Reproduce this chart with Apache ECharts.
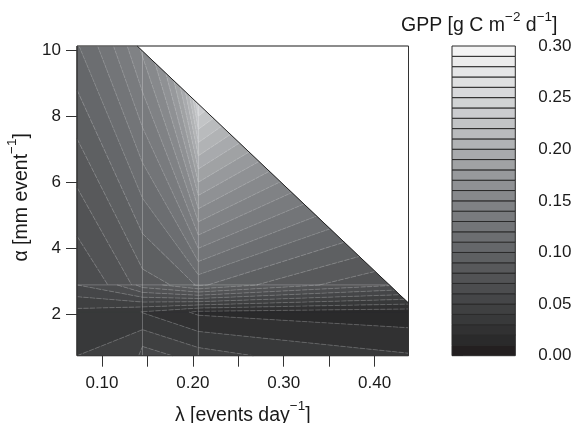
<!DOCTYPE html>
<html><head><meta charset="utf-8">
<style>html,body{margin:0;padding:0;background:#fff}#c{width:573px;height:423px}</style>
<script src="https://cdn.jsdelivr.net/npm/echarts@6/dist/echarts.min.js"></script>
</head><body><div id="c"></div>
<script>
// Grid nodes
const lambdaNodes = [0.0725, 0.1446, 0.206, 0.4373];
const alphaNodes = [0.745, 2.07, 2.89, 10.13];
const gppRow0 = [0.040, 0.0555, 0.045, 0.031];
const gppRow1 = [0.037, 0.0295, 0.018, 0.0138];
const gppRow2 = [0.060, 0.0855, 0.1023, 0.0695];
const gppRow3 = [0.109, 0.153, 0.283, 0.1855];
const feasibleTop = [0.1387, 10.13];
const feasibleRight = [0.4373, 2.34];
const levelGrays = ['#231f20','#2a2a2b','#313132','#38393a','#3f4041','#454648','#4c4d4f','#525355','#58595b','#5e6062',
 '#65676a','#6c6e71','#737578','#797b7e','#808285','#87898c','#8f9194','#97999c','#a0a2a4','#a8aaad',
 '#b1b3b5','#b9bbbd','#c2c4c6','#cbcccf','#d1d3d4','#d8d9db','#dfe0e1','#e5e6e7','#ececec','#f4f4f4'];
const levelStep = 0.01;
const lambdaTicks = [0.10,0.15,0.20,0.25,0.30,0.35,0.40];
const lambdaLabels = [0.10,0.20,0.30,0.40];
const alphaTicks = [2,4,6,8,10];

const rows = [gppRow0, gppRow1, gppRow2, gppRow3];
const font = 'Liberation Sans';

function clipPoly(pts, f){
  const out=[];
  for(let i=0;i<pts.length;i++){
    const a=pts[i], b=pts[(i+1)%pts.length], fa=f(a), fb=f(b);
    if(fa>=0) out.push(a);
    if((fa>=0)!==(fb>=0)){const t=fa/(fa-fb); out.push([a[0]+t*(b[0]-a[0]),a[1]+t*(b[1]-a[1])]);}
  }
  return out;
}
function clipSeg(seg, f){
  let [a,b]=seg; const fa=f(a), fb=f(b);
  if(fa<0&&fb<0) return null;
  if(fa>=0&&fb>=0) return [a,b];
  const t=fa/(fa-fb), m=[a[0]+t*(b[0]-a[0]),a[1]+t*(b[1]-a[1])];
  return fa>=0?[a,m]:[m,b];
}
const feasible = p => {
  const dx=feasibleRight[0]-feasibleTop[0], dy=feasibleRight[1]-feasibleTop[1];
  return (p[1]-feasibleTop[1])/dy - (p[0]-feasibleTop[0])/dx;
};

const fills=[], contours=[], seams=[];
for(let c=0;c<lambdaNodes.length-1;c++){
  for(let r=0;r<alphaNodes.length-1;r++){
    const x0=lambdaNodes[c],x1=lambdaNodes[c+1],y0=alphaNodes[r],y1=alphaNodes[r+1];
    const bounds=[p=>p[0]-x0,p=>x1-p[0],p=>p[1]-y0,p=>y1-p[1],feasible];
    const yAt=(col,v)=>{const a=rows[r][col],b=rows[r+1][col];return y0+(v-a)/(b-a)*(y1-y0);};
    for(let k=0;k<levelGrays.length;k++){
      const lo=k*levelStep, hi=(k+1)*levelStep;
      let poly=[[x0,yAt(c,lo)],[x1,yAt(c+1,lo)],[x1,yAt(c+1,hi)],[x0,yAt(c,hi)]];
      bounds.forEach(f=>{if(poly.length)poly=clipPoly(poly,f);});
      if(poly.length>2) fills.push({kind:'fill',k,pts:poly});
      let seg=[[x0,yAt(c,hi)],[x1,yAt(c+1,hi)]];
      bounds.forEach(f=>{if(seg)seg=clipSeg(seg,f);});
      if(seg) contours.push({kind:k<10?'lineDark':'line',k,pts:seg});
    }
  }
}
[lambdaNodes[1],lambdaNodes[2]].forEach(x=>{
  const s=clipSeg([[x,alphaNodes[0]],[x,alphaNodes[3]]],feasible);
  if(s) seams.push({kind:'seam',pts:s});
});
[alphaNodes[2]].forEach(y=>{
  const s=clipSeg([[lambdaNodes[0],y],[lambdaNodes[3],y]],feasible);
  if(s) seams.push({kind:'seam',pts:s});
});
const xMin=lambdaNodes[0],xMax=lambdaNodes[3],yMin=alphaNodes[0],yMax=alphaNodes[3];
const frame=[
 {kind:'frameTop',pts:[[xMin,yMax],[xMax,yMax]]},
 {kind:'frame',pts:[[xMax,yMax],[xMax,yMin]]},
 {kind:'frame',pts:[[xMax,yMin],[xMin,yMin]]},
 {kind:'frameLeft',pts:[[xMin,yMin],[xMin,yMax]]},
 {kind:'edge',pts:[feasibleTop,feasibleRight]}
];
const shapes=fills.concat(contours,seams,frame);

function renderShape(params,api){
  const s=shapes[params.dataIndex];
  const pts=s.pts.map(p=>api.coord(p));
  if(s.kind==='fill') return {type:'polygon',shape:{points:pts},style:{fill:levelGrays[s.k],stroke:levelGrays[s.k],lineWidth:0.6}};
  const st={
    line:{stroke:'rgba(255,255,255,0.22)',lineWidth:0.7,lineDash:[4,1]},
    lineDark:{stroke:'rgba(255,255,255,0.28)',lineWidth:0.7,lineDash:[5,1.5]},
    seam:{stroke:'rgba(255,255,255,0.26)',lineWidth:0.9},
    frame:{stroke:'#333',lineWidth:1},
    frameTop:{stroke:'#666',lineWidth:1.4},
    frameLeft:{stroke:'#333',lineWidth:1.5},
    edge:{stroke:'#222',lineWidth:1}
  }[s.kind];
  return {type:'line',shape:{x1:pts[0][0],y1:pts[0][1],x2:pts[1][0],y2:pts[1][1]},style:Object.assign({fill:null},st)};
}
function renderBar(params,api){
  const k=params.dataIndex;
  const a=api.coord([0,k*levelStep]), b=api.coord([1,(k+1)*levelStep]);
  return {type:'rect',shape:{x:a[0],y:b[1],width:b[0]-a[0],height:a[1]-b[1]},
    style:{fill:levelGrays[k],stroke:'#2a2a2a',lineWidth:1}};
}
const rich={a:{fontFamily:font,fontSize:19.5,fontWeight:'normal',color:'#1a1a1a',lineHeight:26,verticalAlign:'bottom'},
            s:{fontFamily:font,fontSize:13.5,fontWeight:'normal',color:'#1a1a1a',lineHeight:26,verticalAlign:'top',padding:[0,0,8,0]}};
const axisBase={type:'value',splitLine:{show:false},
  axisLine:{show:false},
  axisTick:{show:true,length:11,lineStyle:{color:'#333',width:1}},
  axisLabel:{fontFamily:font,fontSize:17,color:'#1a1a1a'}};
const chart=echarts.init(document.getElementById('c'),null,{renderer:'canvas'});
chart.setOption({
  animation:false,backgroundColor:'#fff',
  title:{text:'{a|GPP [g C m}{s|−2}{a| d}{s|−1}{a|]}',left:396,top:5,textStyle:{fontWeight:'normal',rich}},
  grid:[{left:77,top:46,width:331.5,height:309.7,outerBoundsMode:'none'},{left:452,top:46,width:63.3,height:309.7,outerBoundsMode:'none'}],
  xAxis:[
    Object.assign({},axisBase,{gridIndex:0,min:xMin,max:xMax,position:'bottom',
      axisTick:Object.assign({},axisBase.axisTick,{customValues:lambdaTicks}),
      axisLabel:Object.assign({},axisBase.axisLabel,{customValues:lambdaLabels,margin:19,formatter:v=>v.toFixed(2)}),
      name:'{a|λ [events day}{s|−1}{a|]}',nameLocation:'middle',nameGap:44,nameTextStyle:{rich}}),
    {type:'value',gridIndex:1,min:0,max:1,show:false}
  ],
  yAxis:[
    Object.assign({},axisBase,{gridIndex:0,min:yMin,max:yMax,
      axisTick:Object.assign({},axisBase.axisTick,{customValues:alphaTicks}),
      axisLabel:Object.assign({},axisBase.axisLabel,{customValues:alphaTicks,margin:16}),
      name:'{a|α [mm event}{s|−1}{a|]}',nameLocation:'middle',nameGap:43,nameTextStyle:{rich,padding:[0,0,0,7]}}),
    Object.assign({},axisBase,{gridIndex:1,min:0,max:0.3,interval:0.05,position:'right',
      axisLabel:Object.assign({},axisBase.axisLabel,{margin:23,formatter:v=>v.toFixed(2)})})
  ],
  series:[
    {type:'custom',xAxisIndex:0,yAxisIndex:0,coordinateSystem:'cartesian2d',clip:false,silent:true,
     renderItem:renderShape,data:shapes.map((s,i)=>[s.pts[0][0],s.pts[0][1],i])},
    {type:'custom',xAxisIndex:1,yAxisIndex:1,coordinateSystem:'cartesian2d',clip:false,silent:true,
     renderItem:renderBar,data:levelGrays.map((g,k)=>[0.5,k*levelStep])}
  ]
});
</script></body></html>
